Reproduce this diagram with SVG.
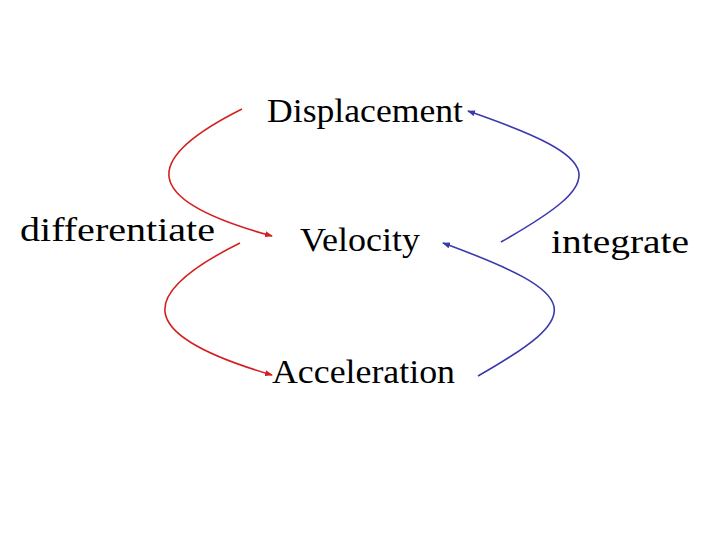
<svg xmlns="http://www.w3.org/2000/svg" width="728" height="546" viewBox="0 0 728 546">
<style>
text{font-family:"Liberation Serif","Times New Roman",serif;font-size:34px;fill:#000}
.r{fill:none;stroke:#d42020;stroke-width:1.6}
.b{fill:none;stroke:#3a3aae;stroke-width:1.6}
</style>
<defs>
<marker id="ar" markerWidth="8" markerHeight="6" refX="7" refY="3" orient="auto" markerUnits="userSpaceOnUse"><path d="M0,0 L8,3 L0,6z" fill="#d42020"/></marker>
<marker id="ab" markerWidth="8" markerHeight="6" refX="7" refY="3" orient="auto" markerUnits="userSpaceOnUse"><path d="M0,0 L8,3 L0,6z" fill="#3a3aae"/></marker>
</defs>
<rect width="728" height="546" fill="#fff"/>
<g id="connectors">
<path class="r" d="M242,109 C140,160 140,200 272,236" marker-end="url(#ar)"/>
<path class="r" d="M240,243 C135,295 135,335 272,375" marker-end="url(#ar)"/>
<path class="b" d="M501,242 C610,180 610,160 468,111" marker-end="url(#ab)"/>
<path class="b" d="M478,376 C585,315 585,295 443,243" marker-end="url(#ab)"/>
</g>
<g id="displacement"><text x="267" y="122" textLength="196" lengthAdjust="spacingAndGlyphs">Displacement</text></g>
<g id="velocity"><text x="300" y="251" textLength="120" lengthAdjust="spacingAndGlyphs">Velocity</text></g>
<g id="acceleration"><text x="272" y="383" textLength="183" lengthAdjust="spacingAndGlyphs">Acceleration</text></g>
<g id="differentiate"><text x="20" y="241" textLength="195" lengthAdjust="spacingAndGlyphs">differentiate</text></g>
<g id="integrate"><text x="551" y="253" textLength="138" lengthAdjust="spacingAndGlyphs">integrate</text></g>
</svg>
